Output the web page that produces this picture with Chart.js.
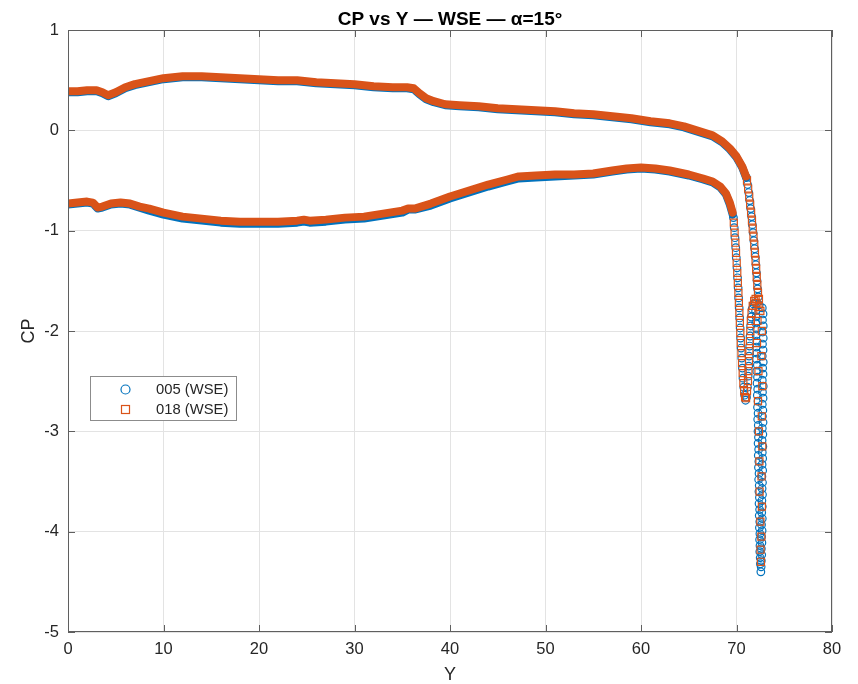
<!DOCTYPE html>
<html lang="en">
<head>
    <meta charset="UTF-8">
    <title>CP vs Y - WSE</title>
    <script src="https://cdn.jsdelivr.net/npm/chart.js"></script>
    <style>
        body { margin: 0; background: #fff; }
        canvas { display: block; }
    </style>
</head>
<body>
    <canvas id="cpChart" width="858" height="684"></canvas>
    <script>
        // Upper branch (CP > 0 side)
        var upY = [0, 1, 2, 3, 3.6, 4.2, 5, 6, 7, 8, 9, 10, 11, 12, 14, 16, 18, 20, 22, 24, 26, 28, 30, 32, 34, 35.5, 36.2, 36.8, 37.5, 38.3, 39.5, 41, 43, 45, 47, 49, 51, 53, 55, 57, 59, 61, 63, 64.5, 65.5, 66.5, 67.5, 68.5, 69.3, 70.0, 70.6, 71.0];
        var upCP018 = [0.39, 0.39, 0.40, 0.40, 0.38, 0.35, 0.38, 0.43, 0.46, 0.48, 0.50, 0.52, 0.53, 0.54, 0.54, 0.53, 0.52, 0.51, 0.50, 0.50, 0.48, 0.47, 0.46, 0.44, 0.43, 0.43, 0.42, 0.37, 0.32, 0.29, 0.26, 0.25, 0.24, 0.22, 0.21, 0.20, 0.19, 0.17, 0.16, 0.14, 0.12, 0.09, 0.07, 0.04, 0.01, -0.02, -0.05, -0.11, -0.18, -0.26, -0.36, -0.46];
        var upCP005 = [0.38, 0.38, 0.39, 0.39, 0.37, 0.34, 0.37, 0.42, 0.45, 0.47, 0.49, 0.51, 0.52, 0.53, 0.53, 0.52, 0.51, 0.50, 0.49, 0.49, 0.47, 0.46, 0.45, 0.43, 0.42, 0.42, 0.41, 0.36, 0.31, 0.28, 0.25, 0.24, 0.23, 0.21, 0.20, 0.19, 0.18, 0.16, 0.15, 0.13, 0.11, 0.08, 0.06, 0.03, 0.00, -0.03, -0.06, -0.12, -0.19, -0.27, -0.37, -0.47];

        // Lower branch (suction side)
        var loY = [0, 1, 2, 2.6, 3.1, 3.6, 4.5, 5.5, 6.5, 7.5, 8.5, 10, 12, 14, 16, 18, 20, 22, 24, 24.7, 25.3, 27, 29, 31, 33, 35, 35.6, 36.3, 38, 40, 42, 44, 46, 47.2, 49, 51, 53, 55, 57, 58.5, 60, 61.5, 63, 65, 66.5, 67.5, 68.3, 68.9, 69.3, 69.6];
        var loCP018 = [-0.73, -0.72, -0.71, -0.72, -0.77, -0.76, -0.73, -0.72, -0.73, -0.76, -0.78, -0.82, -0.86, -0.88, -0.90, -0.91, -0.91, -0.91, -0.90, -0.89, -0.90, -0.89, -0.87, -0.86, -0.83, -0.80, -0.78, -0.78, -0.73, -0.66, -0.60, -0.54, -0.49, -0.46, -0.45, -0.44, -0.44, -0.43, -0.40, -0.38, -0.37, -0.38, -0.40, -0.44, -0.48, -0.51, -0.56, -0.63, -0.72, -0.82];
        var loCP005 = [-0.74, -0.73, -0.72, -0.73, -0.78, -0.77, -0.74, -0.73, -0.74, -0.77, -0.80, -0.84, -0.88, -0.90, -0.92, -0.93, -0.93, -0.93, -0.92, -0.91, -0.92, -0.91, -0.89, -0.88, -0.85, -0.82, -0.79, -0.79, -0.75, -0.68, -0.62, -0.56, -0.51, -0.48, -0.47, -0.46, -0.45, -0.44, -0.41, -0.39, -0.38, -0.39, -0.41, -0.45, -0.49, -0.52, -0.57, -0.64, -0.74, -0.84];

        // Single markers near the tip, 018
        var tipUpY018 = [71.1, 71.22, 71.33, 71.43, 71.53, 71.62, 71.7, 71.78, 71.86, 71.93, 72.0, 72.06, 72.12, 72.18, 72.25, 72.35, 72.3];
        var tipUpCP018 = [-0.50, -0.58, -0.66, -0.74, -0.82, -0.90, -0.98, -1.06, -1.14, -1.22, -1.30, -1.38, -1.46, -1.54, -1.62, -1.68, -1.76];
        var tipLoY018 = [69.72, 69.8, 69.88, 69.95, 70.02, 70.08, 70.14, 70.2, 70.25, 70.3, 70.35, 70.4, 70.45, 70.52, 70.58, 70.65, 70.72, 70.8, 70.9, 71.0, 71.1, 71.2, 71.25, 71.3, 71.35, 71.4, 71.45, 71.5, 71.58, 71.7, 71.85, 72.0];
        var tipLoCP018 = [-0.92, -1.02, -1.12, -1.22, -1.32, -1.42, -1.52, -1.62, -1.72, -1.82, -1.92, -2.02, -2.12, -2.22, -2.32, -2.42, -2.52, -2.60, -2.66, -2.67, -2.60, -2.50, -2.40, -2.30, -2.20, -2.10, -2.00, -1.90, -1.82, -1.75, -1.70, -1.68];
        var colY018 = [72.1, 72.5, 72.2, 72.65, 72.15, 72.6, 72.3, 72.7, 72.25, 72.65, 72.35, 72.7, 72.4, 72.62, 72.42, 72.66, 72.5, 72.6, 72.52, 72.56];
        var colCP018 = [-1.72, -1.80, -1.90, -2.00, -2.12, -2.25, -2.40, -2.55, -2.70, -2.85, -3.00, -3.15, -3.30, -3.45, -3.60, -3.75, -3.90, -4.05, -4.18, -4.30];

        // Single markers near the tip, 005
        var tipUpY005 = [71.05, 71.16, 71.28, 71.38, 71.48, 71.58, 71.66, 71.74, 71.82, 71.9, 71.97, 72.03, 72.09, 72.15, 72.21, 72.28, 72.38];
        var tipUpCP005 = [-0.47, -0.54, -0.62, -0.70, -0.78, -0.86, -0.94, -1.02, -1.10, -1.18, -1.26, -1.34, -1.42, -1.50, -1.58, -1.66, -1.74];
        var tipLoY005 = [69.68, 69.76, 69.84, 69.92, 69.98, 70.05, 70.11, 70.17, 70.22, 70.28, 70.33, 70.38, 70.43, 70.48, 70.55, 70.62, 70.68, 70.76, 70.85, 70.95, 71.05, 71.15, 71.22, 71.28, 71.32, 71.38, 71.42, 71.48, 71.54, 71.64, 71.78, 71.95];
        var tipLoCP005 = [-0.87, -0.97, -1.07, -1.17, -1.27, -1.37, -1.47, -1.57, -1.67, -1.77, -1.87, -1.97, -2.07, -2.17, -2.27, -2.37, -2.47, -2.56, -2.64, -2.69, -2.66, -2.56, -2.45, -2.35, -2.25, -2.15, -2.05, -1.95, -1.86, -1.78, -1.73, -1.72];
        // dense tip column, inner and outer strings of circles
        var colAY005 = [72.0, 72.05, 72.02, 72.1, 72.05, 72.12, 72.08, 72.15, 72.1, 72.18, 72.12, 72.2, 72.15, 72.22, 72.18, 72.25, 72.2, 72.26, 72.22, 72.28, 72.25, 72.3, 72.26, 72.32, 72.28, 72.34, 72.3, 72.36, 72.32, 72.38, 72.35, 72.4, 72.36, 72.42, 72.38, 72.44, 72.4, 72.45, 72.42, 72.46, 72.44, 72.48, 72.5];
        var colACP005 = [-1.80, -1.86, -1.92, -1.98, -2.04, -2.10, -2.16, -2.22, -2.28, -2.34, -2.40, -2.46, -2.52, -2.58, -2.64, -2.70, -2.76, -2.82, -2.88, -2.94, -3.00, -3.06, -3.12, -3.18, -3.24, -3.30, -3.36, -3.42, -3.48, -3.54, -3.60, -3.66, -3.72, -3.78, -3.84, -3.90, -3.96, -4.02, -4.08, -4.14, -4.20, -4.26, -4.32];
        var colBY005 = [72.7, 72.78, 72.72, 72.8, 72.74, 72.8, 72.72, 72.78, 72.7, 72.8, 72.74, 72.78, 72.7, 72.8, 72.72, 72.78, 72.7, 72.76, 72.72, 72.78, 72.7, 72.76, 72.68, 72.76, 72.7, 72.74, 72.68, 72.74, 72.66, 72.72, 72.68, 72.72, 72.66, 72.7, 72.64, 72.7, 72.62, 72.68, 72.62, 72.66, 72.6, 72.64, 72.6, 72.58, 72.55];
        var colBCP005 = [-1.77, -1.83, -1.89, -1.95, -2.01, -2.07, -2.13, -2.19, -2.25, -2.31, -2.37, -2.43, -2.49, -2.55, -2.61, -2.67, -2.73, -2.79, -2.85, -2.91, -2.97, -3.03, -3.09, -3.15, -3.21, -3.27, -3.33, -3.39, -3.45, -3.51, -3.57, -3.63, -3.69, -3.75, -3.81, -3.87, -3.93, -3.99, -4.05, -4.11, -4.17, -4.23, -4.29, -4.35, -4.40];

        var seriesNames = ['005 (WSE)', '018 (WSE)'];
        var xTicks = [0, 10, 20, 30, 40, 50, 60, 70, 80];
        var yTicks = [-5, -4, -3, -2, -1, 0, 1];

        var BLUE = '#0072BD';
        var ORANGE = '#D95319';
        var FONT = '"Liberation Sans", Arial, Helvetica, sans-serif';

        function pts(xs, ys) {
            return xs.map(function (v, i) { return { x: v, y: ys[i] }; });
        }

        // dense part of the curve: markers overlap so much they read as a thick band
        function band(xs, ys, color) {
            return {
                data: pts(xs, ys), showLine: true, borderColor: color, borderWidth: 8,
                borderCapStyle: 'round', borderJoinStyle: 'round', pointRadius: 0, fill: false
            };
        }

        function marks(xs, ys, color, style, r) {
            return {
                data: pts(xs, ys), showLine: false, pointStyle: style, pointRadius: r,
                pointBorderColor: color, pointBackgroundColor: 'rgba(0,0,0,0)', pointBorderWidth: 1.2
            };
        }

        // frame, inward ticks, title, axis labels and legend, MATLAB style
        var decor = {
            id: 'decor',
            afterDraw: function (chart) {
                var ctx = chart.ctx, a = chart.chartArea;
                var sx = chart.scales.x, sy = chart.scales.y;
                ctx.save();
                ctx.strokeStyle = '#5f5f5f';
                ctx.lineWidth = 1;
                ctx.beginPath();
                xTicks.forEach(function (v) {
                    var px = Math.round(sx.getPixelForValue(v)) + 0.5;
                    ctx.moveTo(px, a.bottom); ctx.lineTo(px, a.bottom - 7);
                    ctx.moveTo(px, a.top); ctx.lineTo(px, a.top + 7);
                });
                yTicks.forEach(function (v) {
                    var py = Math.round(sy.getPixelForValue(v)) + 0.5;
                    ctx.moveTo(a.left, py); ctx.lineTo(a.left + 7, py);
                    ctx.moveTo(a.right, py); ctx.lineTo(a.right - 7, py);
                });
                ctx.stroke();
                ctx.strokeRect(a.left + 0.5, a.top + 0.5, a.right - a.left - 1, a.bottom - a.top - 1);

                ctx.fillStyle = '#000';
                ctx.textAlign = 'center';
                ctx.textBaseline = 'alphabetic';
                ctx.font = 'bold 19px ' + FONT;
                ctx.fillText('CP vs Y \u2014 WSE \u2014 \u03b1=15\u00b0', (a.left + a.right) / 2, 25);

                ctx.fillStyle = '#262626';
                ctx.font = '18px ' + FONT;
                ctx.fillText('Y', (a.left + a.right) / 2, 680);
                ctx.save();
                ctx.translate(34, (a.top + a.bottom) / 2);
                ctx.rotate(-Math.PI / 2);
                ctx.fillText('CP', 0, 0);
                ctx.restore();

                // legend box
                ctx.fillStyle = '#fff';
                ctx.fillRect(90.5, 376.5, 146, 44);
                ctx.strokeStyle = '#8c8c8c';
                ctx.strokeRect(90.5, 376.5, 146, 44);
                ctx.lineWidth = 1.2;
                ctx.strokeStyle = BLUE;
                ctx.beginPath();
                ctx.arc(125.5, 389.5, 4.5, 0, Math.PI * 2);
                ctx.stroke();
                ctx.strokeStyle = ORANGE;
                ctx.strokeRect(121.5, 405.5, 8, 8);
                ctx.fillStyle = '#262626';
                ctx.textAlign = 'left';
                ctx.textBaseline = 'middle';
                ctx.font = '14.8px ' + FONT;
                ctx.fillText(seriesNames[0], 156, 390);
                ctx.fillText(seriesNames[1], 156, 410);
                ctx.restore();
            }
        };

        var tickFont = { family: FONT, size: 16.5 };

        var cpConfig = {
            type: 'scatter',
            data: {
                datasets: [
                    band(upY, upCP018, ORANGE),
                    band(loY, loCP018, ORANGE),
                    marks(tipUpY018, tipUpCP018, ORANGE, 'rect', 5),
                    marks(tipLoY018, tipLoCP018, ORANGE, 'rect', 5),
                    marks(colY018, colCP018, ORANGE, 'rect', 5),
                    band(upY, upCP005, BLUE),
                    band(loY, loCP005, BLUE),
                    marks(tipUpY005, tipUpCP005, BLUE, 'circle', 3.8),
                    marks(tipLoY005, tipLoCP005, BLUE, 'circle', 3.8),
                    marks(colAY005, colACP005, BLUE, 'circle', 3.8),
                    marks(colBY005, colBCP005, BLUE, 'circle', 3.8)
                ]
            },
            options: {
                responsive: false,
                animation: false,
                devicePixelRatio: 1,
                layout: { padding: { top: 30, right: 26, left: 0, bottom: 0 } },
                plugins: {
                    legend: { display: false },
                    tooltip: { enabled: false }
                },
                scales: {
                    x: {
                        type: 'linear', min: 0, max: 80,
                        afterBuildTicks: function (s) { s.ticks = xTicks.map(function (v) { return { value: v }; }); },
                        afterFit: function (s) { s.height = 52; },
                        ticks: { font: tickFont, color: '#262626', padding: 8, maxRotation: 0 },
                        grid: { color: '#e3e3e3', drawTicks: false },
                        border: { display: false }
                    },
                    y: {
                        type: 'linear', min: -5, max: 1,
                        afterBuildTicks: function (s) { s.ticks = yTicks.map(function (v) { return { value: v }; }); },
                        afterFit: function (s) { s.width = 68; },
                        ticks: { font: tickFont, color: '#262626', padding: 9 },
                        grid: { color: '#e3e3e3', drawTicks: false },
                        border: { display: false }
                    }
                }
            },
            plugins: [decor]
        };

        var cpChart = new Chart(document.getElementById('cpChart'), cpConfig);
    </script>
</body>
</html>
